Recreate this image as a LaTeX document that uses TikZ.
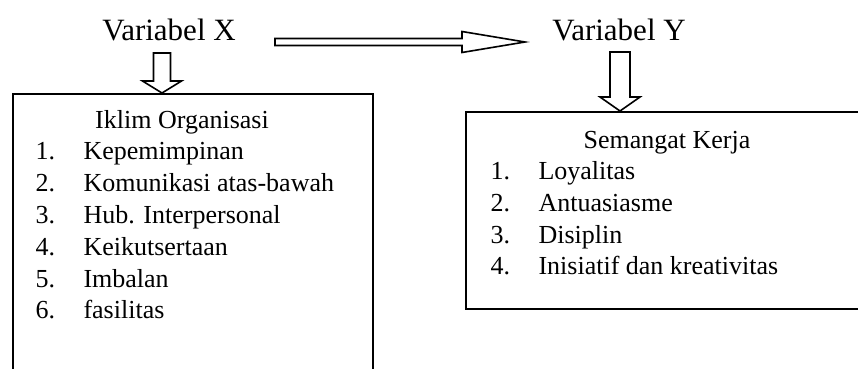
\documentclass[tikz,border=0pt]{standalone}
\usepackage{fontspec}
\setmainfont{Liberation Serif}
\usetikzlibrary{calc}

\tikzset{
	box/.style={draw, line width=1.8pt, anchor=north west, inner sep=0pt},
	blockline/.style={draw, line width=1.6pt, line join=miter},
	heading/.style={font=\fontsize{31}{36}\selectfont, anchor=base},
	item/.style={font=\fontsize{26}{30}\selectfont, anchor=base west},
}

% fat arrow: start, tip, half shaft, half head, head length
\newcommand\blockarrow[5]{
	\coordinate (ba) at ($(#2)!#5!(#1)$);
	\draw[blockline] ($(#1)!#3!90:(#2)$) -- ($(ba)!#3!90:(#2)$) -- ($(ba)!#4!90:(#2)$) -- (#2)
		-- ($(ba)!#4!-90:(#2)$) -- ($(ba)!#3!-90:(#2)$) -- ($(#1)!#3!-90:(#2)$) -- cycle;
}

\begin{document}
\begin{tikzpicture}[x=1pt, y=-1pt]
		\useasboundingbox (0,0) rectangle (858,368);
		\clip (0,0) rectangle (858,368);

		\node (varx)[heading] at (169,40) {Variabel X};
		\node (vary)[heading] at (619,40) {Variabel Y};

		\node (lbox)[box, minimum width=360pt, minimum height=300pt] at (12,93) {};
		\node (rbox)[box, minimum width=420pt, minimum height=197pt] at (465,111) {};

		\node (ltitle)[item, anchor=base] at (182,128) {Iklim Organisasi};
		\foreach \t [count=\i] in {Kepemimpinan, Komunikasi atas-bawah, Hub. Interpersonal, Keikutsertaan, Imbalan, fasilitas}{
			\node (lnum\i)[item] at (32,{128+31.8*\i}) {\i.};
			\node (litem\i)[item] at (80,{128+31.8*\i}) {\t};
		}

		\node (rtitle)[item, anchor=base] at (667,148) {Semangat Kerja};
		\foreach \t [count=\i] in {Loyalitas, Antuasiasme, Disiplin, Inisiatif dan kreativitas}{
			\node (rnum\i)[item] at (487,{148+31.7*\i}) {\i.};
			\node (ritem\i)[item] at (535,{148+31.7*\i}) {\t};
		}

		\coordinate (xy0) at (275,42);
		\coordinate (xy1) at (525,42);
		\coordinate (x0) at (162,53);
		\coordinate (x1) at (162,93);
		\coordinate (y0) at (620,52);
		\coordinate (y1) at (620,111);

		\blockarrow{xy0}{xy1}{3.5pt}{10.5pt}{63pt}
		\blockarrow{x0}{x1}{8.5pt}{19.5pt}{12pt}
		\blockarrow{y0}{y1}{10pt}{20pt}{14pt}
	\end{tikzpicture}
\end{document}
